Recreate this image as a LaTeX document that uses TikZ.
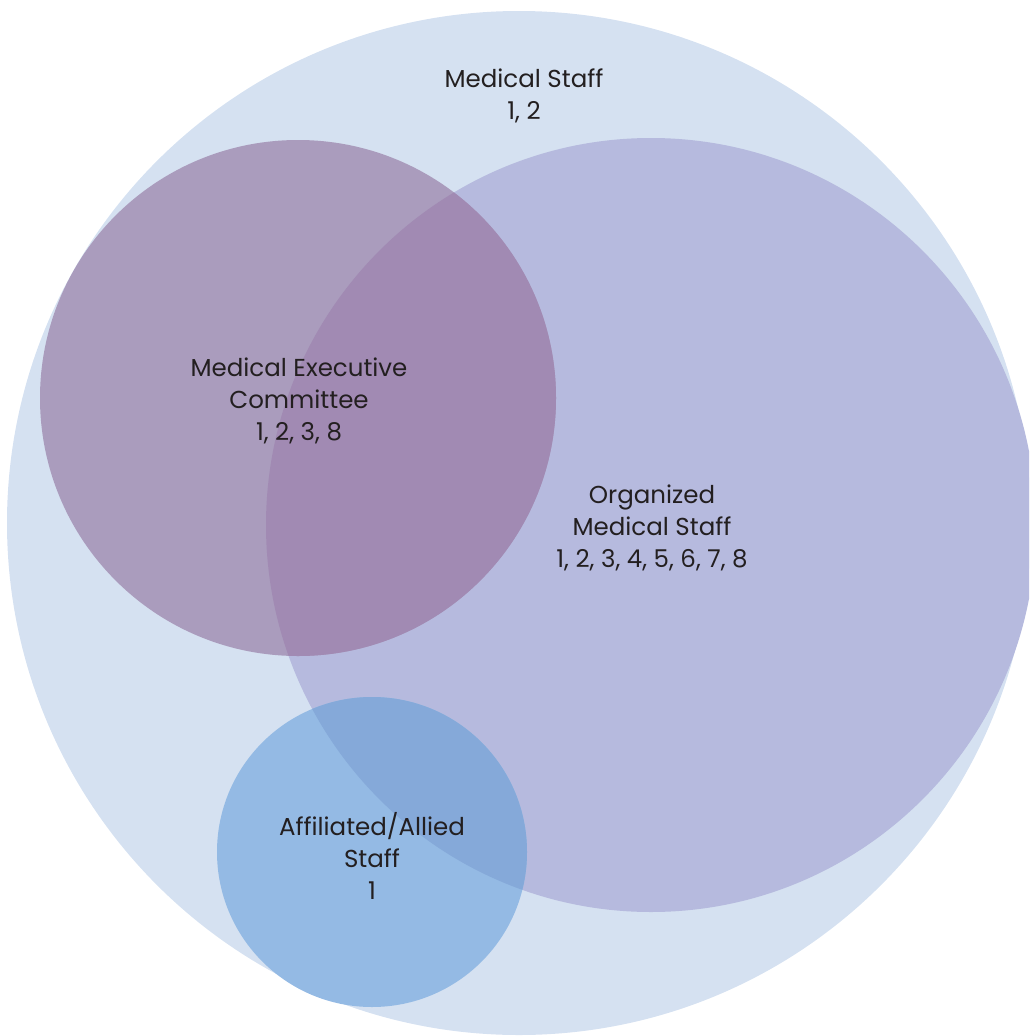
\documentclass[tikz,border=0pt]{standalone}
\usepackage{fontspec}
\setmainfont{Poppins}[Ligatures=NoCommon]
\definecolor{bigc}{HTML}{D5E1F1}
\definecolor{orgc}{HTML}{B6BADE}
\definecolor{mecc}{HTML}{AA9CBD}
\definecolor{mecorg}{HTML}{A18AB3}
\definecolor{affc}{HTML}{94BAE4}
\definecolor{afforg}{HTML}{85A9D9}
\definecolor{txt}{HTML}{231F20}
\begin{document}
\begin{tikzpicture}[x=1pt,y=-1pt,
  lbl/.style={align=center,text=txt,font=\fontsize{24.5}{32}\selectfont,inner sep=0pt}]
\useasboundingbox (0,0) rectangle (1029,1036);
\begin{scope}
\clip (0,0) rectangle (1029,1036);
\fill[bigc] (519,523) circle[radius=512];
\fill[orgc] (651,525) ellipse[x radius=385, y radius=387];
\fill[mecc] (298,398) circle[radius=258];
\begin{scope}
\clip (651,525) ellipse[x radius=385, y radius=387];
\fill[mecorg] (298,398) circle[radius=258];
\end{scope}
\fill[affc] (372,852) circle[radius=155];
\begin{scope}
\clip (651,525) ellipse[x radius=385, y radius=387];
\fill[afforg] (372,852) circle[radius=155];
\end{scope}
\end{scope}
\node[lbl] (ms) at (524,96) {Medical Staff\\1, 2};
\node[lbl] (mec) at (299,401) {Medical Executive\\Committee\\1, 2, 3, 8};
\node[lbl] (oms) at (652,528) {Organized\\Medical Staff\\1, 2, 3, 4, 5, 6, 7, 8};
\node[lbl] (aff) at (372,856) {Affiliated/Allied\\Staff\\1};
\end{tikzpicture}
\end{document}
